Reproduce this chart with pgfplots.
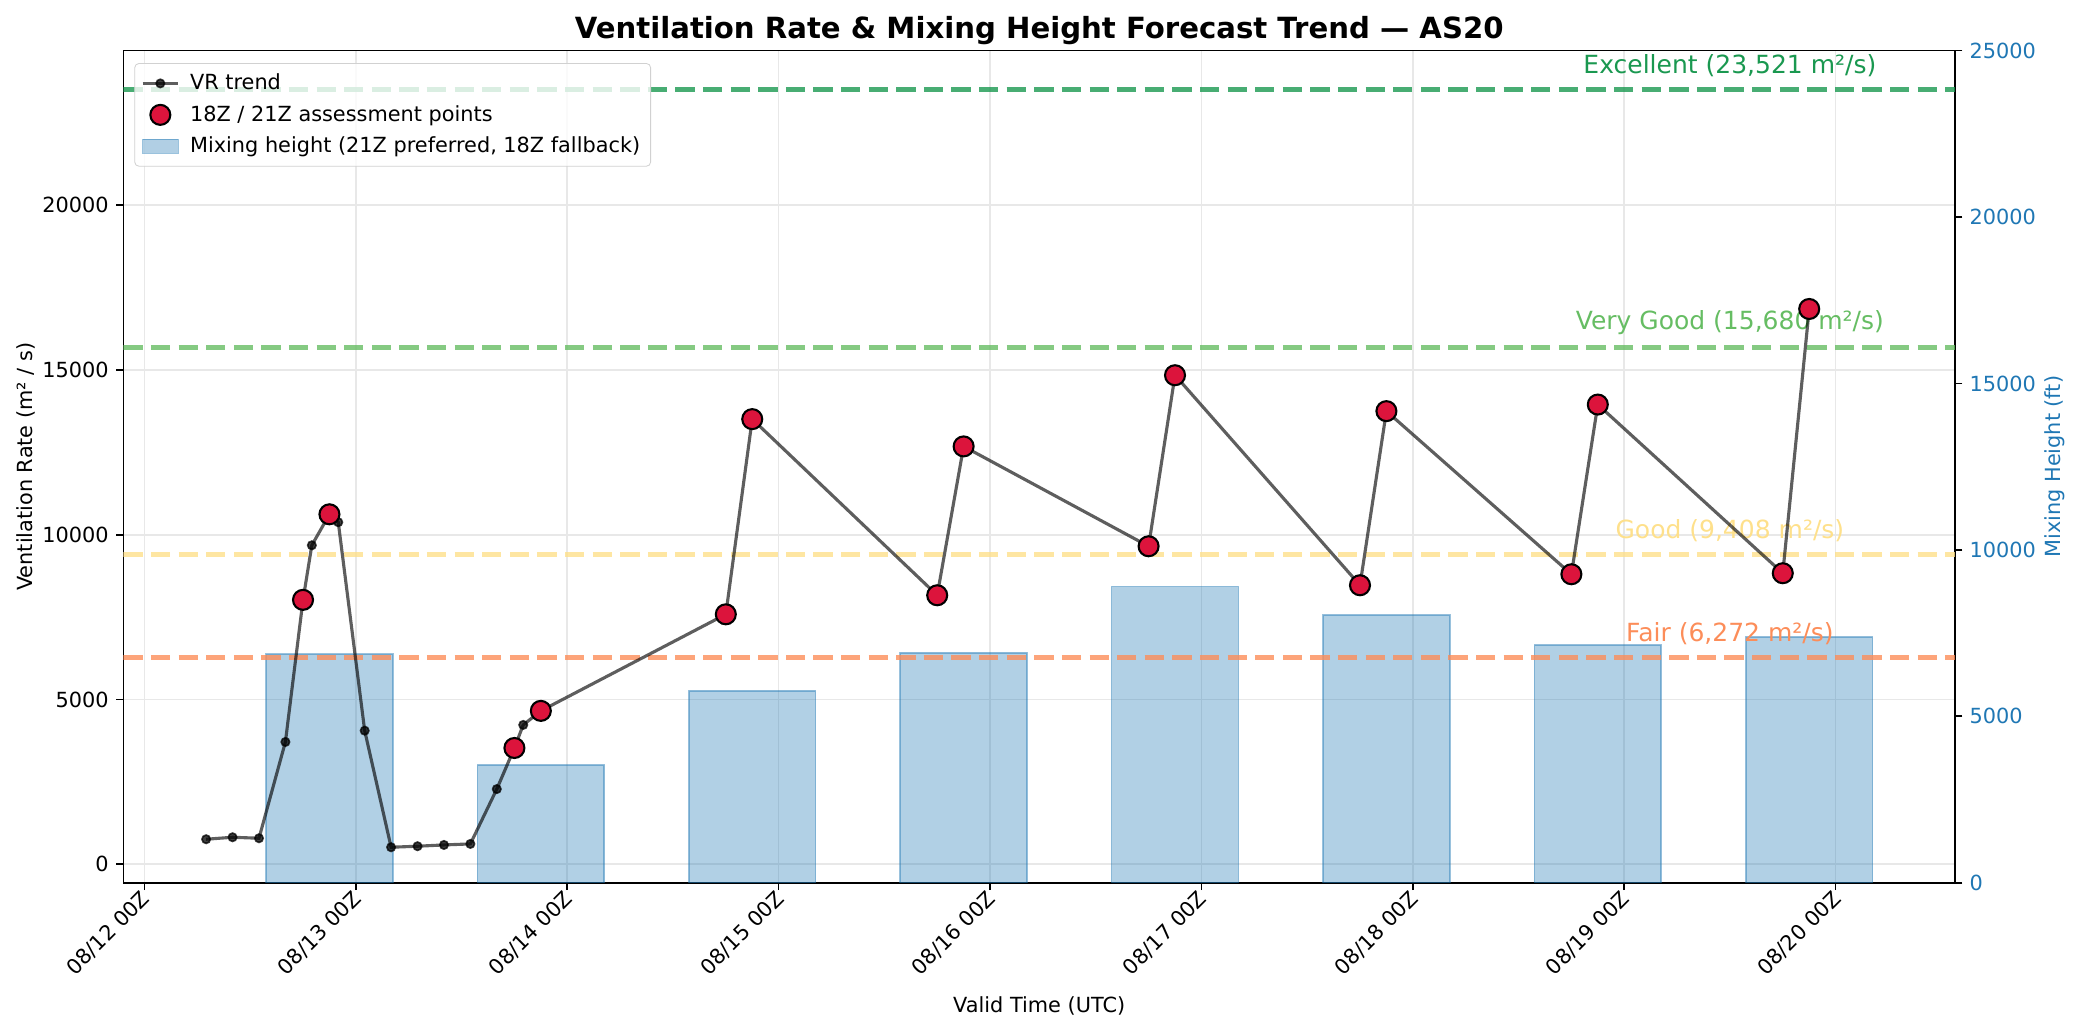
\documentclass[border=0pt]{standalone}
\usepackage{fontspec}
\setmainfont{DejaVu Sans}
\usepackage{pgfplots}
\pgfplotsset{compat=1.18}
\definecolor{tabblue}{HTML}{1F77B4}
\definecolor{crimson}{HTML}{DC143C}
\definecolor{exc}{HTML}{1A9850}
\definecolor{vg}{HTML}{66BD63}
\definecolor{good}{HTML}{FEE08B}
\definecolor{fair}{HTML}{FC8D59}
\begin{document}
\begin{tikzpicture}
\pgfplotsset{
  every axis/.append style={
    set layers,
    scale only axis, width=879.2pt, height=399.4pt,
    xmin=-0.1, xmax=8.565,
    tick align=outside,
    major tick length=3.5pt,
    tick style={black, line width=0.8pt},
    axis line style={line width=0.8pt},
    tick label style={font=\fontsize{10}{12}\selectfont},
    /pgf/number format/1000 sep={},
    /pgf/number format/assume math mode=true,
    scaled y ticks=false,
  }
}
% right axis: mixing height bars
\begin{axis}[
  axis y line*=right, axis x line=none,
  ymin=0, ymax=25000,
  ytick={0,5000,10000,15000,20000,25000},
  yticklabel style={text=tabblue},
]
\addplot[ybar, bar width=0.6, fill=tabblue, fill opacity=0.35, draw=tabblue, draw opacity=0.45, line width=0.8pt]
coordinates {(0.875,6870) (1.875,3540) (2.875,5770) (3.875,6910) (4.875,8900) (5.875,8050) (6.875,7150) (7.875,7390)};
\end{axis}
% left axis: ventilation rate
\begin{axis}[
  ymin=-560, ymax=24690,
  ytick={0,5000,10000,15000,20000},
  xtick={0,1,2,3,4,5,6,7,8},
  xticklabels={08/12 00Z,08/13 00Z,08/14 00Z,08/15 00Z,08/16 00Z,08/17 00Z,08/18 00Z,08/19 00Z,08/20 00Z},
  xticklabel style={rotate=45, anchor=north east, inner sep=1pt, yshift=3pt},
  xtick pos=bottom, ytick pos=left,
  xmajorgrids, ymajorgrids,
  grid style={color=black!9, line width=0.8pt},
  legend style={at={(0.006,0.985)}, anchor=north west, draw=black!18, rounded corners=2pt,
    fill=white, fill opacity=0.8, text opacity=1, font=\fontsize{10}{12}\selectfont,
    row sep=2pt, column sep=3pt, inner sep=3pt},
  legend cell align=left,
]
\addplot[exc, opacity=0.8, line width=2.5pt, dash pattern=on 9.25pt off 4pt, forget plot] coordinates {(-0.1,23521) (8.565,23521)};
\addplot[vg, opacity=0.8, line width=2.5pt, dash pattern=on 9.25pt off 4pt, forget plot] coordinates {(-0.1,15680) (8.565,15680)};
\addplot[good, opacity=0.8, line width=2.5pt, dash pattern=on 9.25pt off 4pt, forget plot] coordinates {(-0.1,9408) (8.565,9408)};
\addplot[fair, opacity=0.8, line width=2.5pt, dash pattern=on 9.25pt off 4pt, forget plot] coordinates {(-0.1,6272) (8.565,6272)};
\node[anchor=south, inner sep=0pt, text=exc, font=\fontsize{12}{14}\selectfont] at (axis cs:7.5,23891) {Excellent (23,521 m²/s)};
\node[anchor=south, inner sep=0pt, text=vg, font=\fontsize{12}{14}\selectfont] at (axis cs:7.5,16050) {Very Good (15,680 m²/s)};
\node[anchor=south, inner sep=0pt, text=good, font=\fontsize{12}{14}\selectfont] at (axis cs:7.5,9778) {Good (9,408 m²/s)};
\node[anchor=south, inner sep=0pt, text=fair, font=\fontsize{12}{14}\selectfont] at (axis cs:7.5,6642) {Fair (6,272 m²/s)};
\addplot[draw=black, draw opacity=0.63, line width=1.5pt, mark=*, mark size=2pt,
  mark options={fill=black, draw=black, fill opacity=0.75, draw opacity=0.75, line width=0.8pt}]
coordinates {
(0.2917,760) (0.4167,820) (0.5417,790) (0.6667,3712) (0.75,8024) (0.7917,9680) (0.875,10620) (0.9167,10380)
(1.0417,4055) (1.1667,517) (1.2917,548) (1.4167,587) (1.5417,618) (1.6667,2282) (1.75,3529) (1.7917,4229) (1.875,4655)
(2.75,7585) (2.875,13508) (3.75,8163) (3.875,12680) (4.75,9650) (4.875,14840) (5.75,8467) (5.875,13750)
(6.75,8801) (6.875,13950) (7.75,8832) (7.875,16850)};
\addlegendentry{VR trend}
\addplot[only marks, mark=*, mark size=4.8pt, mark options={fill=crimson, draw=black, line width=1pt},
  legend image post style={fill opacity=1, draw opacity=1}]
coordinates {
(0.75,8024) (0.875,10620) (1.75,3529) (1.875,4655)
(2.75,7585) (2.875,13508) (3.75,8163) (3.875,12680) (4.75,9650) (4.875,14840) (5.75,8467) (5.875,13750)
(6.75,8801) (6.875,13950) (7.75,8832) (7.875,16850)};
\addlegendentry{18Z / 21Z assessment points}
\addlegendimage{legend image code/.code={\draw[sharp corners, fill=tabblue, fill opacity=0.35, draw=tabblue, draw opacity=0.45] (0cm,-0.12cm) rectangle (0.6cm,0.12cm);}}
\addlegendentry{Mixing height (21Z preferred, 18Z fallback)}
\end{axis}
\node[anchor=base, inner sep=0pt, font=\bfseries\fontsize{14}{17}\selectfont] at ([yshift=6pt]current axis.north) {Ventilation Rate \& Mixing Height Forecast Trend — AS20};
\node[anchor=base, inner sep=0pt, font=\fontsize{10}{12}\selectfont] at ([yshift=-62.5pt]current axis.south) {Valid Time (UTC)};
\node[anchor=base, rotate=90, inner sep=0pt, font=\fontsize{10}{12}\selectfont] at ([xshift=-43.7pt]current axis.west) {Ventilation Rate (m² / s)};
\node[anchor=base, rotate=90, inner sep=0pt, text=tabblue, font=\fontsize{10}{12}\selectfont] at ([xshift=50.4pt]current axis.east) {Mixing Height (ft)};
\pgfresetboundingbox
\useasboundingbox ([shift={(-59.2pt,-71.7pt)}]current axis.south west) rectangle ([shift={(59.5pt,24.3pt)}]current axis.north east);
\end{tikzpicture}
\end{document}
